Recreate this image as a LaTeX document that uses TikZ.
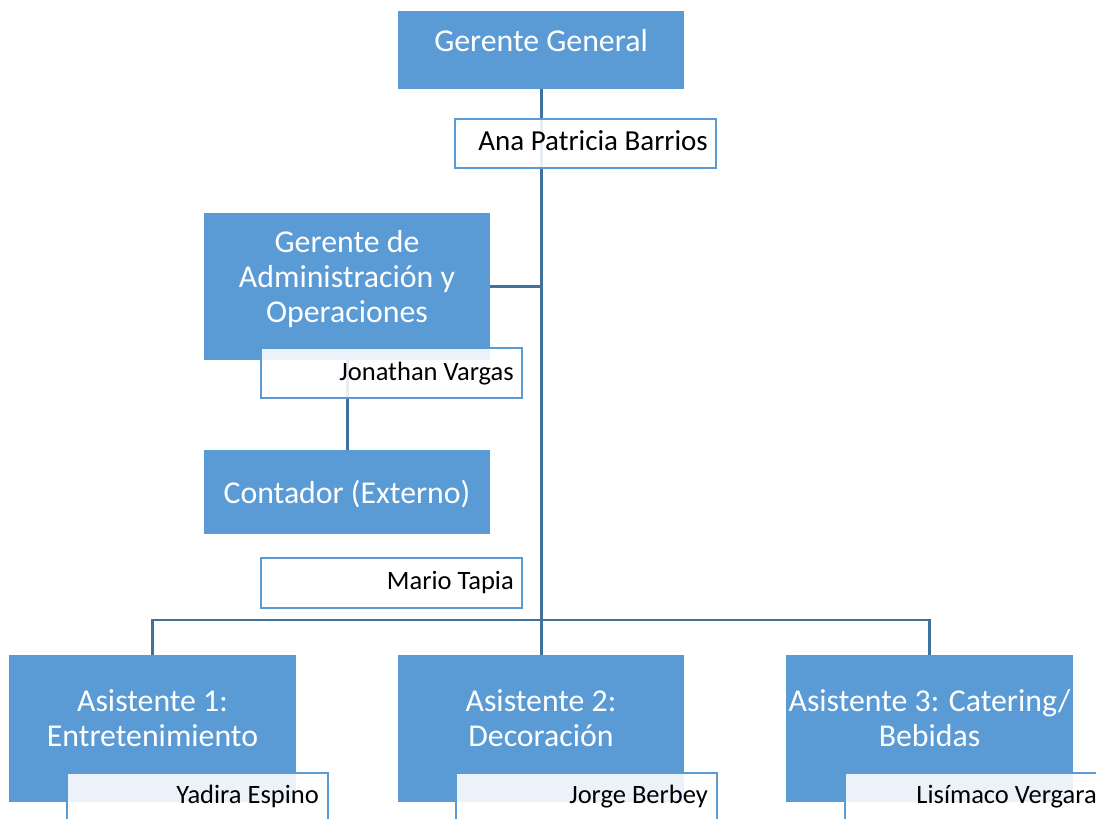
\documentclass[tikz,border=0pt]{standalone}
\usepackage{fontspec}
\setmainfont{Carlito}
\definecolor{boxblue}{HTML}{5B9BD5}
\definecolor{linkblue}{HTML}{41719C}
\tikzset{
 bluebox/.style={fill=boxblue, draw=none, inner sep=0pt, anchor=north west},
 namebox/.style={fill=white, fill opacity=0.88, draw=boxblue, line width=2pt, inner sep=0pt, anchor=north west},
 titletext/.style={text=white, font=\fontsize{31.8}{35}\selectfont, align=center, inner sep=0pt, anchor=base},
 nametext/.style={text=black, font=\fontsize{26.5}{30}\selectfont, inner sep=0pt, anchor=base east},
 link/.style={draw=linkblue, line width=2.8pt},
}
\begin{document}
\begin{tikzpicture}[x=1pt,y=-1pt]
\useasboundingbox (0,0) rectangle (1096,819);
% blue boxes
\node[bluebox, minimum width=286pt, minimum height=78pt] (gg) at (398,11) {};
\node[bluebox, minimum width=286pt, minimum height=147pt] (adm) at (204,213) {};
\node[bluebox, minimum width=286pt, minimum height=84pt] (cont) at (204,450) {};
\node[bluebox, minimum width=287pt, minimum height=147pt] (a1) at (9,655) {};
\node[bluebox, minimum width=286pt, minimum height=147pt] (a2) at (398,655) {};
\node[bluebox, minimum width=287pt, minimum height=147pt] (a3) at (786,655) {};
% connectors
\draw[link] (gg.south) -- (a2.north);
\draw[link] (adm.east) -- (adm.east -| gg.south);
\draw[link] (adm.south) -- (cont.north);
\coordinate (bus) at (541,620);
\draw[link] (a1.north) -- (a1.north |- bus) -- (a3.north |- bus) -- (a3.north);
% name boxes
\node[namebox, minimum width=261pt, minimum height=49pt] (ana) at (454,118) {};
\node[namebox, minimum width=261pt, minimum height=50pt] (jon) at (260,347) {};
\node[namebox, minimum width=261pt, minimum height=50pt] (mario) at (260,557) {};
\node[namebox, minimum width=261pt, minimum height=60pt] (yad) at (66,772) {};
\node[namebox, minimum width=261pt, minimum height=60pt] (jor) at (455,772) {};
\node[namebox, minimum width=261pt, minimum height=60pt] (lis) at (844,772) {};
% titles (base anchor = last line baseline)
\node[titletext] (ggt) at (541,51) {Gerente General};
\node[titletext] (admt) at (347,322) {Gerente de\\Administración y\\Operaciones};
\node[titletext] (contt) at (347,503) {Contador (Externo)};
\node[titletext] (a1t) at (152.5,746) {Asistente 1:\\Entretenimiento};
\node[titletext] (a2t) at (541,746) {Asistente 2:\\Decoración};
\node[titletext] (a3t) at (929.5,746) {Asistente 3: Catering/\\Bebidas};
% names
\node[nametext, font=\fontsize{29}{33}\selectfont] (anat) at (708,150) {Ana Patricia Barrios};
\node[nametext] (jont) at (514,380) {Jonathan Vargas};
\node[nametext] (mariot) at (514,589) {Mario Tapia};
\node[nametext] (yadt) at (319,803) {Yadira Espino};
\node[nametext] (jort) at (708,803) {Jorge Berbey};
\node[nametext] (list) at (1097,803) {Lisímaco Vergara};
\end{tikzpicture}
\end{document}
